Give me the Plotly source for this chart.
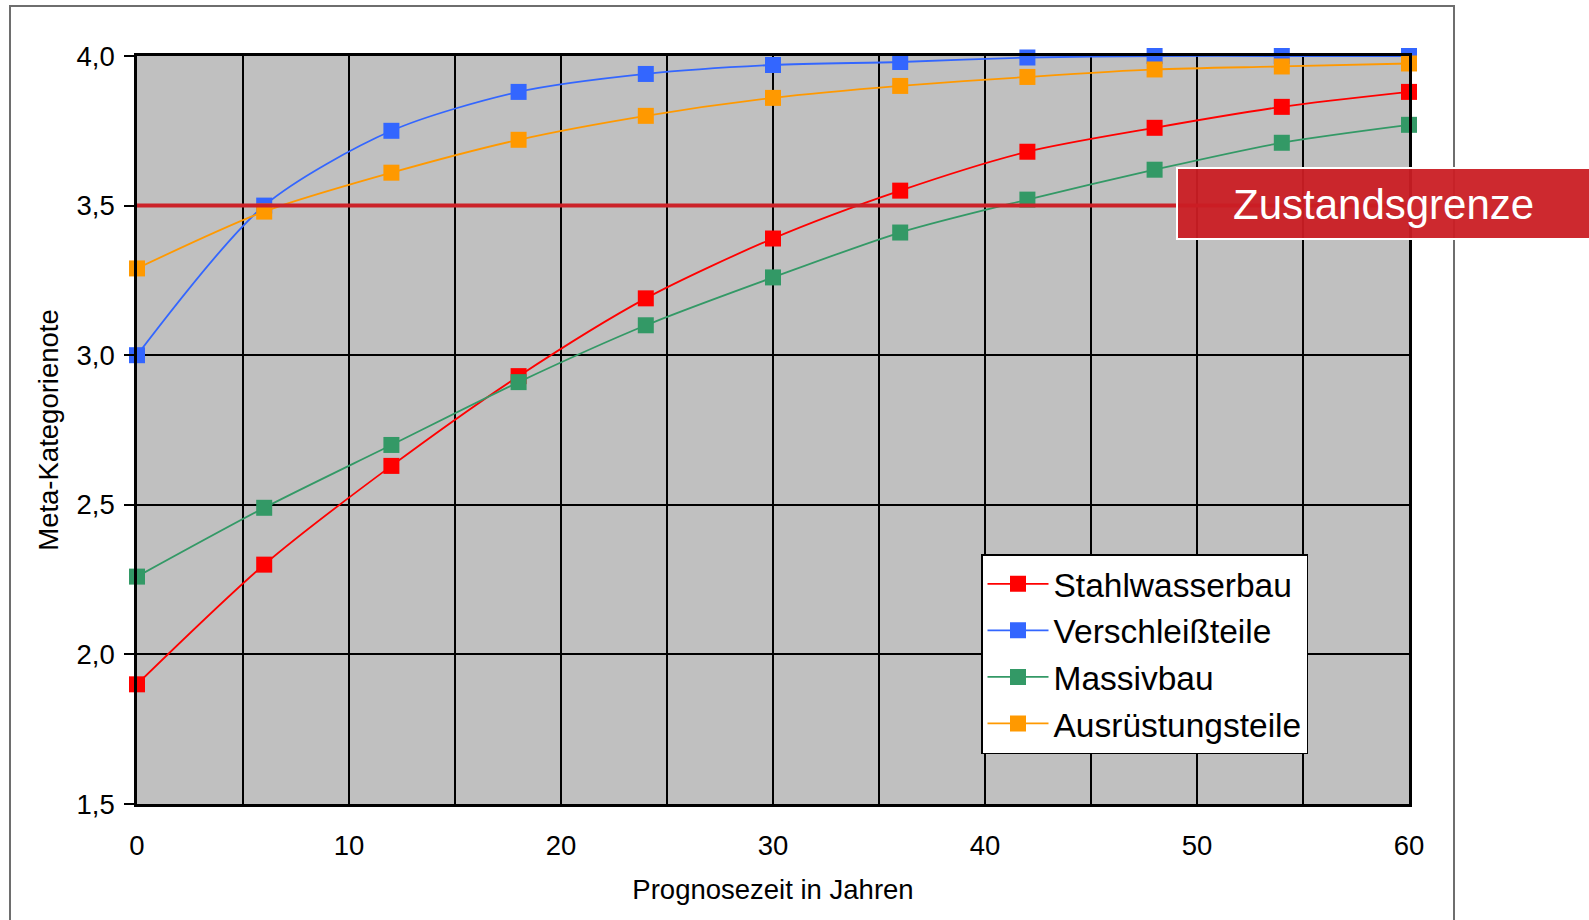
import plotly.graph_objects as go

# Prognosis horizon (years) and category scores per building component group
jahre = [0, 6, 12, 18, 24, 30, 36, 42, 48, 54, 60]

stahlwasserbau = [1.90, 2.30, 2.63, 2.93, 3.19, 3.39, 3.55, 3.68, 3.76, 3.83, 3.88]
verschleissteile = [3.00, 3.50, 3.75, 3.88, 3.94, 3.97, 3.98, 3.995, 4.00, 4.00, 4.00]
massivbau = [2.26, 2.49, 2.70, 2.91, 3.10, 3.26, 3.41, 3.52, 3.62, 3.71, 3.77]
ausruestungsteile = [3.29, 3.48, 3.61, 3.72, 3.80, 3.86, 3.90, 3.93, 3.955, 3.965, 3.975]

zustandsgrenze = 3.5

x_ticks = [0, 10, 20, 30, 40, 50, 60]
y_ticks = [1.5, 2.0, 2.5, 3.0, 3.5, 4.0]
y_ticktext = ["1,5", "2,0", "2,5", "3,0", "3,5", "4,0"]

series = [
    ("Stahlwasserbau", stahlwasserbau, "#FF0000"),
    ("Verschleißteile", verschleissteile, "#3366FF"),
    ("Massivbau", massivbau, "#339966"),
    ("Ausrüstungsteile", ausruestungsteile, "#FF9900"),
]

FONT = "Liberation Sans, Arial, sans-serif"

fig = go.Figure()
for name, values, color in series:
    fig.add_trace(go.Scatter(
        x=jahre, y=values, name=name, mode="lines+markers",
        line=dict(color=color, width=1.8, shape="spline", smoothing=0.8),
        marker=dict(symbol="square", size=16, color=color, line=dict(width=0)),
        cliponaxis=False,
    ))

# plot area in pixels: left 137, right 1409, top 56, bottom 804
L, R, T, B = 137, 1409, 56, 804
W, H = 1589, 920


def px_x(p):
    return (p - L) / (R - L)


def px_y(p):
    return (B - p) / (B - T)


shapes = [
    # condition limit line
    dict(type="line", xref="x", yref="y", x0=0, x1=60, y0=zustandsgrenze, y1=zustandsgrenze,
         line=dict(color="#CC2229", width=4), layer="above"),
    # outer chart frame
    dict(type="rect", xref="paper", yref="paper",
         x0=px_x(10), x1=px_x(1454), y0=px_y(6), y1=px_y(940),
         line=dict(color="#6E6E6E", width=2), fillcolor="rgba(0,0,0,0)", layer="below"),
    # label box for the condition limit
    dict(type="rect", xref="paper", yref="paper",
         x0=px_x(1177), x1=px_x(1600), y0=px_y(239), y1=px_y(168),
         line=dict(color="white", width=2), fillcolor="rgba(202,30,36,0.95)", layer="above"),
]

fig.add_annotation(
    xref="paper", yref="paper", x=px_x(1383), y=px_y(204),
    xanchor="center", yanchor="middle",
    text="Zustandsgrenze", showarrow=False,
    font=dict(family=FONT, size=42, color="white"),
)

fig.update_layout(
    width=W, height=H,
    margin=dict(l=L, r=W - R, t=T, b=H - B),
    paper_bgcolor="white",
    plot_bgcolor="#C0C0C0",
    font=dict(family=FONT, color="black", size=27.5),
    shapes=shapes,
    showlegend=True,
    legend=dict(
        x=px_x(981), y=px_y(554), xanchor="left", yanchor="top",
        bgcolor="white", bordercolor="black", borderwidth=1.5,
        font=dict(family=FONT, size=33.5, color="black"),
        tracegroupgap=0, itemwidth=61,
    ),
)

fig.update_xaxes(
    range=[0, 60], tickvals=x_ticks, ticks="", showline=True, mirror=True,
    linecolor="black", linewidth=2.5, showgrid=True, gridcolor="black", gridwidth=2,
    zeroline=False, tickfont=dict(size=27.5), ticklabelstandoff=15,
    minor=dict(dtick=5, tick0=0, showgrid=True, gridcolor="black", gridwidth=2),
    title=dict(text="Prognosezeit in Jahren", font=dict(size=27.5), standoff=20),
)
fig.update_yaxes(
    range=[1.5, 4.0], tickvals=y_ticks, ticktext=y_ticktext, ticks="outside",
    ticklen=10, tickwidth=2, tickcolor="black", showline=True, mirror=True,
    linecolor="black", linewidth=2.5, showgrid=True, gridcolor="black", gridwidth=1.5,
    zeroline=False, tickfont=dict(size=27.5), ticklabelstandoff=4,
    title=dict(text="Meta-Kategorienote", font=dict(size=27.5), standoff=10),
)

fig.write_html("out.html")
